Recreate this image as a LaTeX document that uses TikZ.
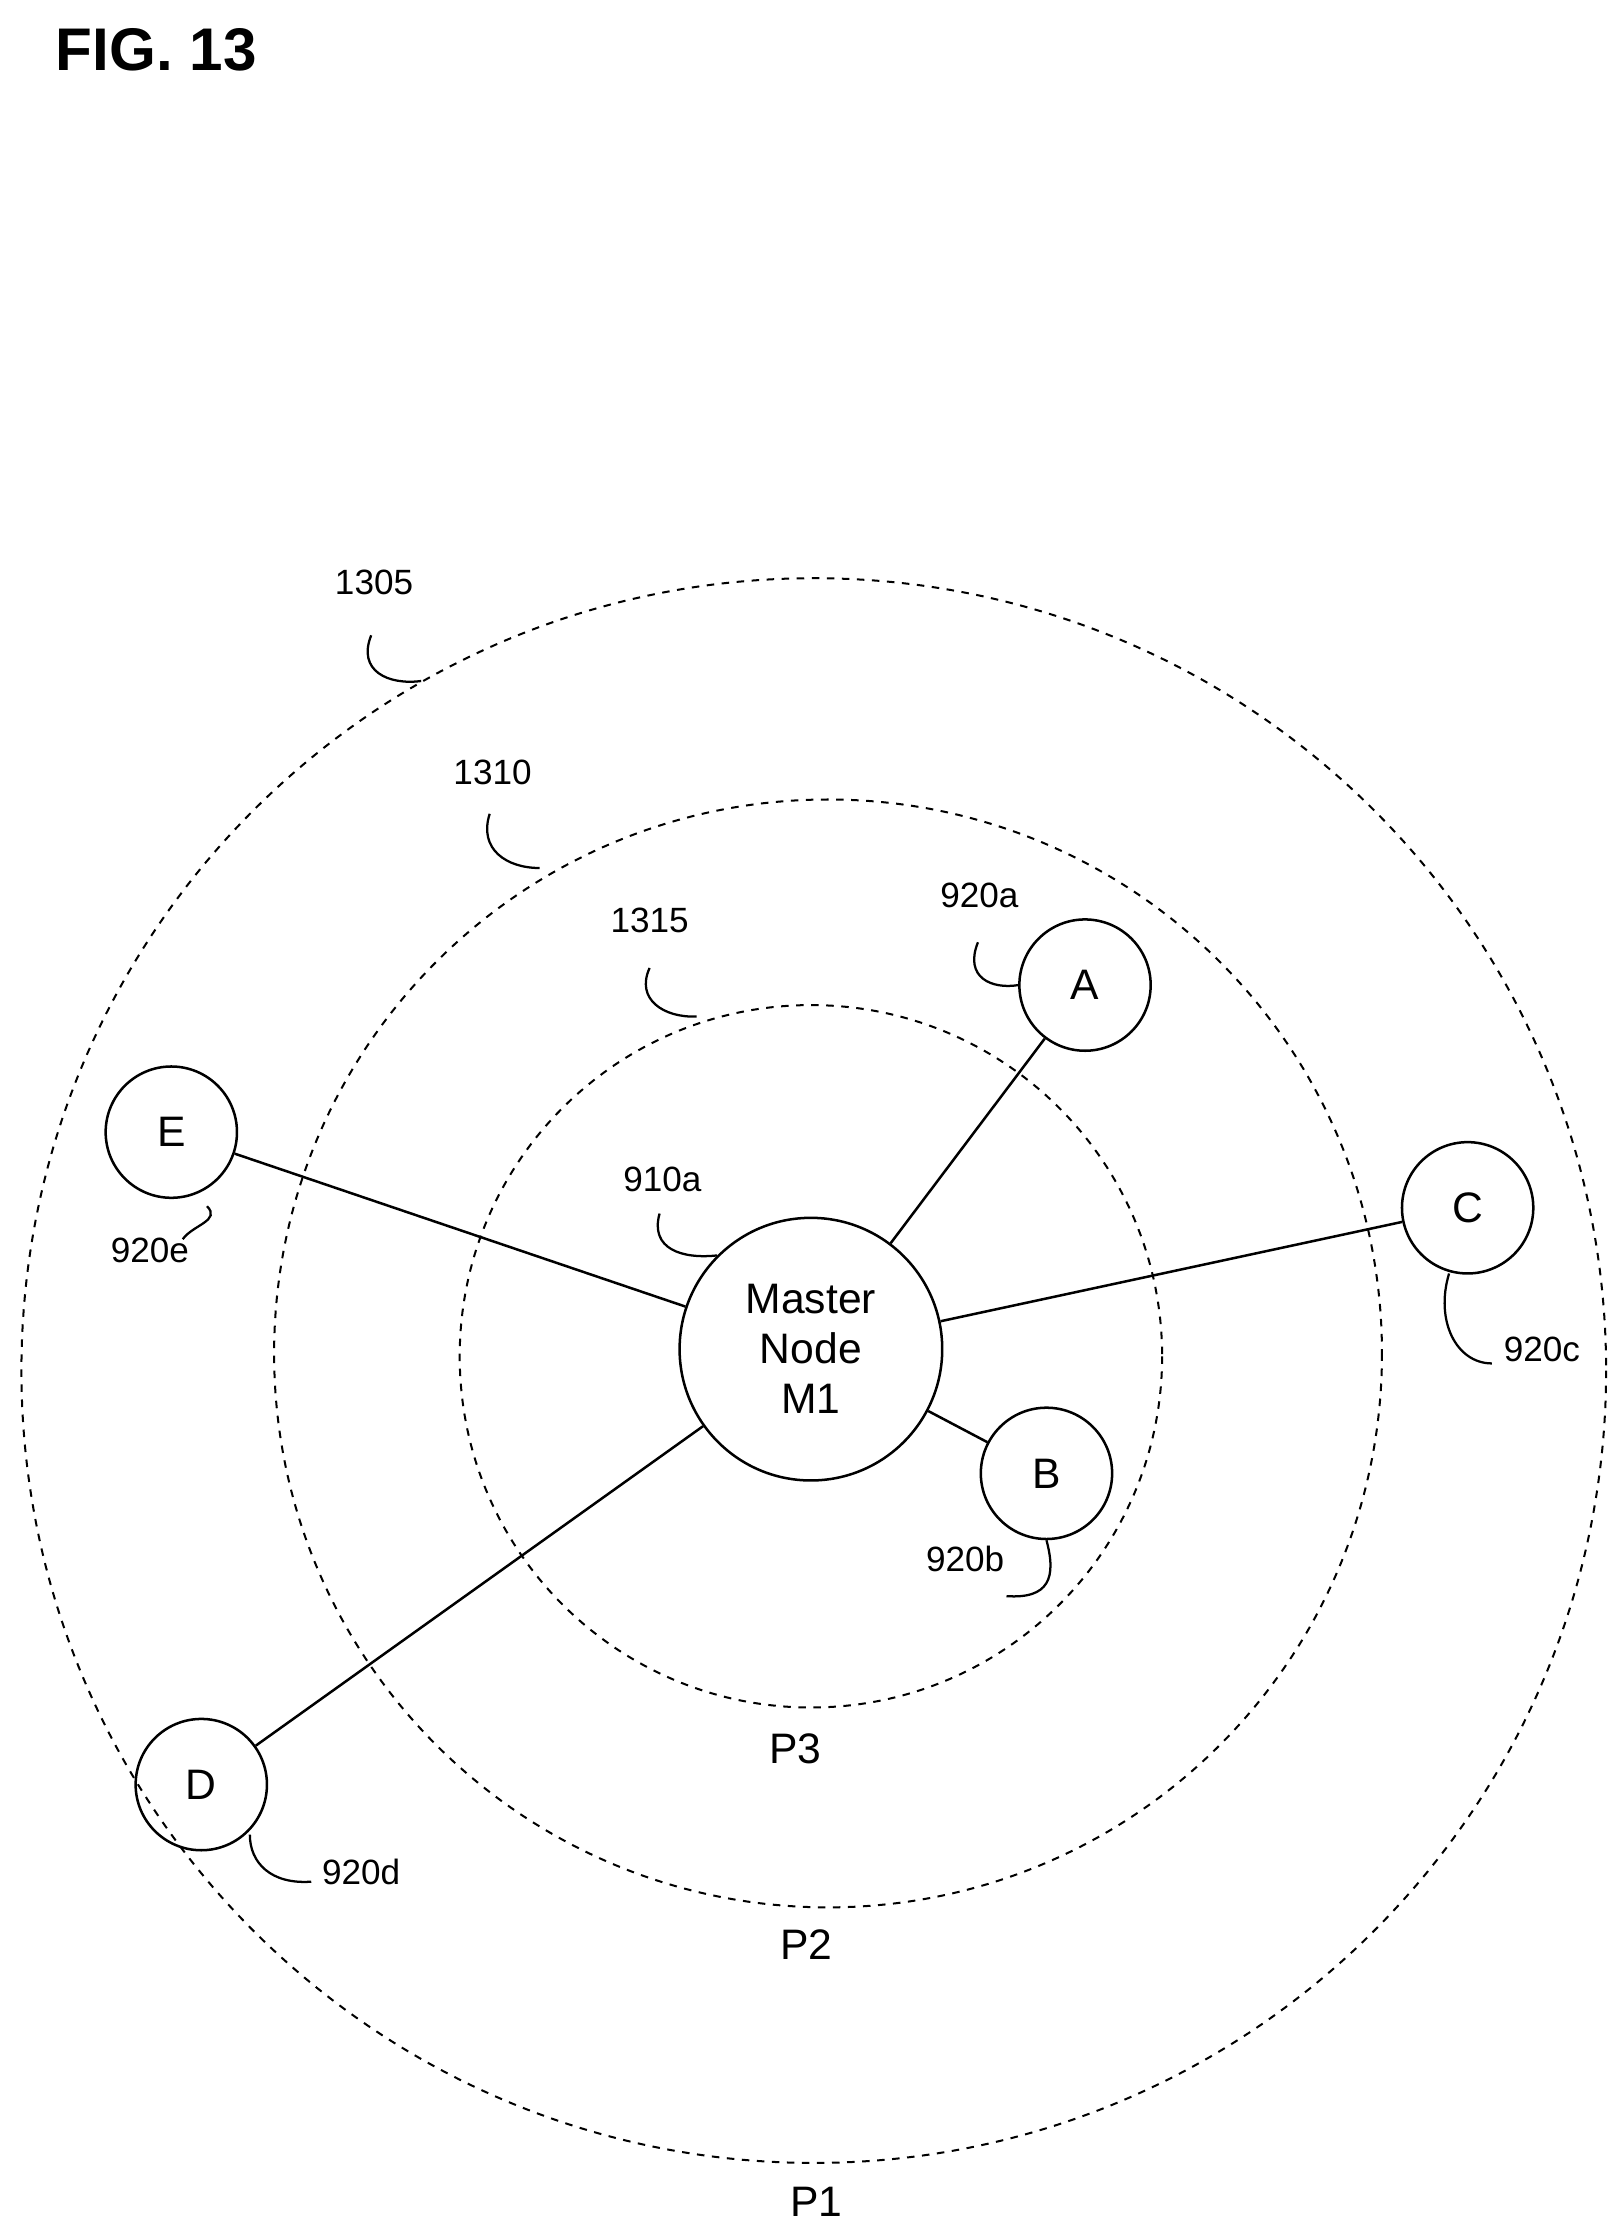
\documentclass[tikz,border=0pt]{standalone}
\usepackage{fontspec}
\setmainfont{Liberation Sans}
\begin{document}
\begin{tikzpicture}[x=0.02cm, y=-0.02cm]
  \tikzset{
    ring/.style={draw, dashed, line width=0.8pt},
    peer/.style={draw, circle, line width=1pt, minimum size=1.84cm, inner sep=0pt, font=\fontsize{17}{20}\selectfont},
    tag/.style={font=\fontsize{14}{16}\selectfont},
    lead/.style={line width=0.9pt}
  }
  \useasboundingbox (0,0) rectangle (1134,1562);

  \node[font=\bfseries\fontsize{24}{28}\selectfont, anchor=west] (fig) at (33,35) {FIG. 13};

  % zones
  \draw[ring] (570,960) circle (555);
  \draw[ring] (580,948) circle (388);
  \draw[ring] (568,950) circle (246);

  % nodes
  \node[peer, minimum size=3.68cm, align=center] (m1) at (568,945) {Master\\Node\\M1};
  \node[peer] (a) at (760,690) {A};
  \node[peer] (b) at (733,1032) {B};
  \node[peer] (c) at (1028,846) {C};
  \node[peer] (d) at (141,1250) {D};
  \node[peer] (e) at (120,793) {E};

  % links
  \foreach \p in {a,b,c,d,e} {
    \draw[line width=1pt] (m1) -- (\p);
  }

  % labels
  \node[tag] (l1305) at (262,408) {1305};
  \node[tag] (l1310) at (345,541) {1310};
  \node[tag] (l1315) at (455,645) {1315};
  \node[tag] (l920a) at (686,627) {920a};
  \node[tag] (l910a) at (464,826) {910a};
  \node[tag] (l920e) at (105,876) {920e};
  \node[tag] (l920c) at (1080,945) {920c};
  \node[tag] (l920b) at (676,1092) {920b};
  \node[tag] (l920d) at (253,1311) {920d};
  \node[tag, font=\fontsize{17}{20}\selectfont] (p3) at (557,1225) {P3};
  \node[tag, font=\fontsize{17}{20}\selectfont] (p2) at (565,1362) {P2};
  \node[tag, font=\fontsize{17}{20}\selectfont] (p1) at (572,1542) {P1};

  % leaders
  \draw[lead] (260,445) .. controls (250,470) and (272,480) .. (295,477);
  \draw[lead] (343,570) .. controls (335,595) and (355,608) .. (378,608);
  \draw[lead] (455,678) .. controls (445,700) and (465,713) .. (488,712);
  \draw[lead] (685,660) .. controls (675,685) and (695,693) .. (a.west);
  \draw[lead] (462,850) .. controls (455,875) and (478,882) .. (m1.north west);
  \draw[lead] (e.south) ++(25,5) .. controls (155,855) and (135,858) .. (128,868);
  \draw[lead] (1015,892) .. controls (1005,925) and (1020,955) .. (1045,955);
  \draw[lead] (b.south) .. controls (740,1105) and (735,1120) .. (705,1118);
  \draw[lead] (175,1285) .. controls (175,1305) and (190,1320) .. (218,1318);
\end{tikzpicture}
\end{document}
